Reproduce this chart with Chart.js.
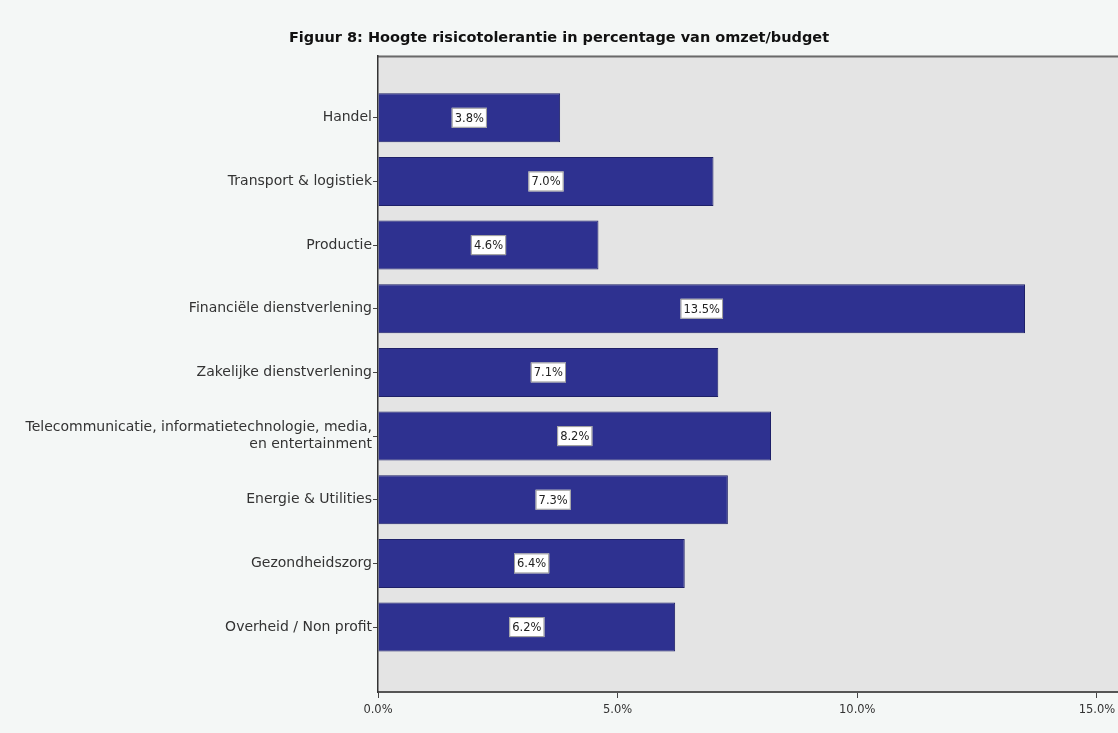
<!DOCTYPE html>
<html lang="nl">
<head>
    <meta charset="UTF-8">
    <title>Hoogte risicotolerantie</title>
    <script src="https://cdn.jsdelivr.net/npm/chart.js"></script>
    <style>
        html, body { margin: 0; padding: 0; background: #f4f7f6; }
        #chart { display: block; }
    </style>
</head>
<body>
    <canvas id="chart" width="1118" height="733"></canvas>

    <script>
        // Sectors, top to bottom
        const sectors = [
            'Handel',
            'Transport & logistiek',
            'Productie',
            'Financiële dienstverlening',
            'Zakelijke dienstverlening',
            ['Telecommunicatie, informatietechnologie, media,', 'en entertainment'],
            'Energie & Utilities',
            'Gezondheidszorg',
            'Overheid / Non profit'
        ];

        // Risk tolerance as % of turnover/budget
        const tolerance = [3.8, 7.0, 4.6, 13.5, 7.1, 8.2, 7.3, 6.4, 6.2];

        const xTicks = [0, 5, 10, 15];

        const barColor = '#2e3190';
        const plotBg = '#e4e4e4';

        // grey plot background and the dark top frame line
        const plotFrame = {
            id: 'plotFrame',
            beforeDraw(chart) {
                const { ctx, chartArea: a } = chart;
                ctx.save();
                ctx.fillStyle = plotBg;
                ctx.fillRect(a.left, a.top, a.right - a.left, a.bottom - a.top);
                ctx.strokeStyle = '#6a6a6a';
                ctx.lineWidth = 2;
                ctx.beginPath();
                ctx.moveTo(a.left, a.top + 1);
                ctx.lineTo(a.right, a.top + 1);
                ctx.stroke();
                ctx.restore();
            }
        };

        // white value boxes in the middle of each bar
        const valueBoxes = {
            id: 'valueBoxes',
            afterDatasetsDraw(chart) {
                const { ctx } = chart;
                const meta = chart.getDatasetMeta(0);
                ctx.save();
                ctx.font = '11.5px "DejaVu Sans"';
                ctx.textAlign = 'center';
                ctx.textBaseline = 'middle';
                meta.data.forEach((bar, i) => {
                    const txt = tolerance[i].toFixed(1) + '%';
                    const cx = (bar.x + bar.base) / 2;
                    const cy = bar.y;
                    const w = ctx.measureText(txt).width + 6;
                    const h = 20;
                    ctx.fillStyle = '#ffffff';
                    ctx.fillRect(cx - w / 2, cy - h / 2, w, h);
                    ctx.strokeStyle = '#9a9a9a';
                    ctx.lineWidth = 1;
                    ctx.strokeRect(cx - w / 2 + 0.5, cy - h / 2 + 0.5, w - 1, h - 1);
                    ctx.fillStyle = '#222222';
                    ctx.fillText(txt, cx, cy + 1);
                });
                ctx.restore();
            }
        };

        new Chart(document.getElementById('chart'), {
            type: 'bar',
            data: {
                datasets: [{
                    data: tolerance.map((v, i) => ({ x: v, y: i })),
                    backgroundColor: barColor,
                    borderColor: '#1e2068',
                    borderWidth: 1,
                    categoryPercentage: 1,
                    barPercentage: 0.77
                }]
            },
            options: {
                indexAxis: 'y',
                responsive: false,
                animation: false,
                layout: { padding: 0 },
                plugins: {
                    legend: { display: false },
                    tooltip: { enabled: false },
                    title: {
                        display: true,
                        text: 'Figuur 8: Hoogte risicotolerantie in percentage van omzet/budget',
                        color: '#111',
                        font: { family: 'DejaVu Sans', size: 14.5, weight: 'bold' },
                        padding: { top: 30, bottom: 8 }
                    }
                },
                scales: {
                    x: {
                        type: 'linear',
                        min: 0,
                        max: 15.44,
                        afterBuildTicks: s => { s.ticks = xTicks.map(v => ({ value: v })); },
                        afterFit: s => {
                            s.height = 41;
                            s.paddingLeft = 0;
                            s.paddingRight = 0;
                        },
                        grid: {
                            drawOnChartArea: false,
                            drawTicks: true,
                            tickLength: 6,
                            color: '#444'
                        },
                        border: { color: '#555', width: 2 },
                        ticks: {
                            color: '#333',
                            padding: 5,
                            maxRotation: 0,
                            font: { family: 'DejaVu Sans', size: 11.5 },
                            callback: v => v.toFixed(1) + '%'
                        }
                    },
                    y: {
                        type: 'linear',
                        reverse: true,
                        offset: false,
                        min: -0.98,
                        max: 9.02,
                        afterBuildTicks: s => { s.ticks = sectors.map((_, i) => ({ value: i })); },
                        afterFit: s => { s.width = 378; },
                        grid: {
                            offset: false,
                            drawOnChartArea: false,
                            drawTicks: true,
                            tickLength: 5,
                            color: '#444'
                        },
                        border: { color: '#333', width: 1.5 },
                        ticks: {
                            color: '#333',
                            padding: 1,
                            font: { family: 'DejaVu Sans', size: 14 },
                            callback: v => sectors[v]
                        }
                    }
                }
            },
            plugins: [plotFrame, valueBoxes]
        });
    </script>
</body>
</html>
